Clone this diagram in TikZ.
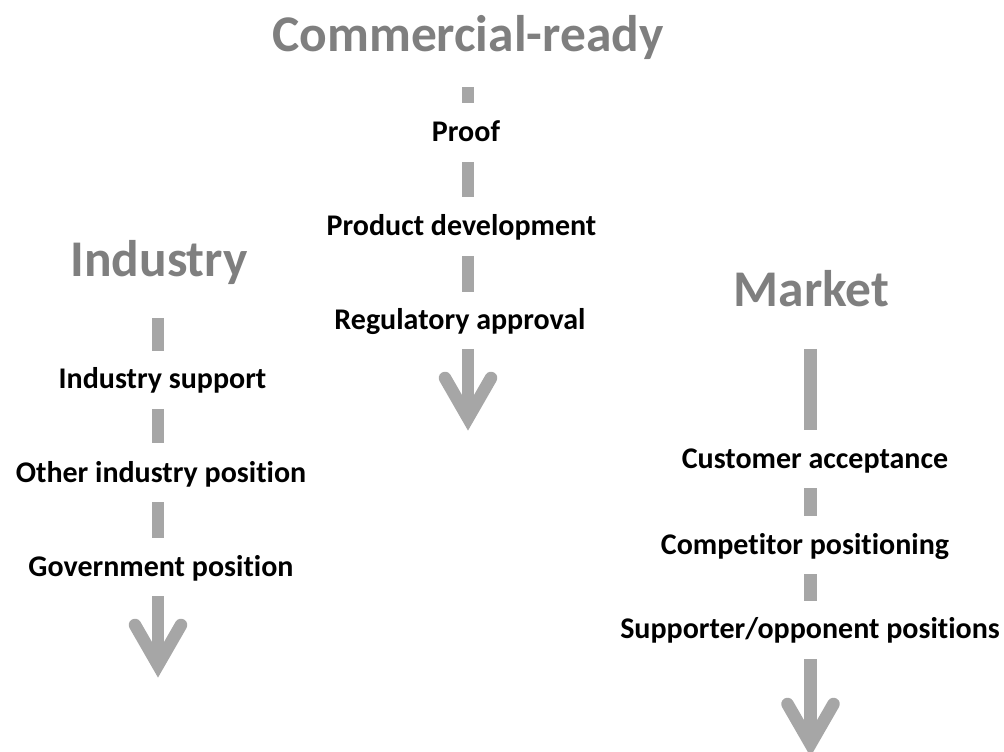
\documentclass[tikz,border=0pt]{standalone}
\usepackage{fontspec}
\setmainfont{Carlito}[Ligatures=NoCommon]
\usetikzlibrary{calc}
\definecolor{segcol}{HTML}{A6A6A6}
\definecolor{titlecol}{HTML}{7F7F7F}
\begin{document}
\begin{tikzpicture}[x=0.75pt,y=-0.75pt,
  coltitle/.style={anchor=base, inner sep=0pt, text=titlecol, font=\fontsize{38.6}{42}\selectfont\bfseries},
  lbl/.style={anchor=base, inner sep=0pt, font=\fontsize{22.5}{26}\selectfont\bfseries},
  seg/.style={draw=segcol, line width=9.4pt},
  chev/.style={draw=segcol, line width=9.4pt, line cap=round, line join=miter},
]
\useasboundingbox (0,0) rectangle (1004,752);
% column anchors
\coordinate (colC) at (468,0);
\coordinate (colI) at (158,0);
\coordinate (colM) at (810.5,0);
% Commercial-ready column
\node[coltitle] (tC) at (468,52) {Commercial-ready};
\node[lbl] (proof) at (466,142) {Proof};
\node[lbl] (pd) at (461.5,236) {Product development};
\node[lbl] (ra) at (460,330) {Regulatory approval};
\coordinate (tipC) at (468,418);
\draw[seg] ($(colC |- tC.base)+(0,35)$) -- ($(colC |- proof.base)+(0,-39)$);
\draw[seg] ($(colC |- proof.base)+(0,20)$) -- ($(colC |- pd.base)+(0,-39)$);
\draw[seg] ($(colC |- pd.base)+(0,20)$) -- ($(colC |- ra.base)+(0,-38)$);
\draw[seg] ($(colC |- ra.base)+(0,19)$) -- (tipC);
\draw[chev] ($(tipC)+(-23,-40)$) -- (tipC) -- ($(tipC)+(23,-40)$);
% Industry column
\node[coltitle] (tI) at (159,277) {Industry};
\node[lbl] (is) at (162.5,389) {Industry support};
\node[lbl] (oi) at (161,483) {Other industry position};
\node[lbl] (gp) at (161,576) {Government position};
\coordinate (tipI) at (158,665);
\draw[seg] ($(colI |- tI.base)+(0,41)$) -- ($(colI |- is.base)+(0,-38)$);
\draw[seg] ($(colI |- is.base)+(0,20)$) -- ($(colI |- oi.base)+(0,-40)$);
\draw[seg] ($(colI |- oi.base)+(0,19)$) -- ($(colI |- gp.base)+(0,-38)$);
\draw[seg] ($(colI |- gp.base)+(0,20)$) -- (tipI);
\draw[chev] ($(tipI)+(-23,-40)$) -- (tipI) -- ($(tipI)+(23,-40)$);
% Market column
\node[coltitle] (tM) at (811.5,307) {Market};
\node[lbl] (ca) at (815,469) {Customer acceptance};
\node[lbl] (cp) at (805,554) {Competitor positioning};
\node[lbl] (so) at (810,638) {Supporter/opponent positions};
\coordinate (tipM) at (810.5,744);
\draw[seg] ($(colM |- tM.base)+(0,42)$) -- ($(colM |- ca.base)+(0,-39)$);
\draw[seg] ($(colM |- ca.base)+(0,19)$) -- ($(colM |- cp.base)+(0,-38)$);
\draw[seg] ($(colM |- cp.base)+(0,20)$) -- ($(colM |- so.base)+(0,-37)$);
\draw[seg] ($(colM |- so.base)+(0,21)$) -- (tipM);
\draw[chev] ($(tipM)+(-23,-40)$) -- (tipM) -- ($(tipM)+(23,-40)$);
\end{tikzpicture}
\end{document}
